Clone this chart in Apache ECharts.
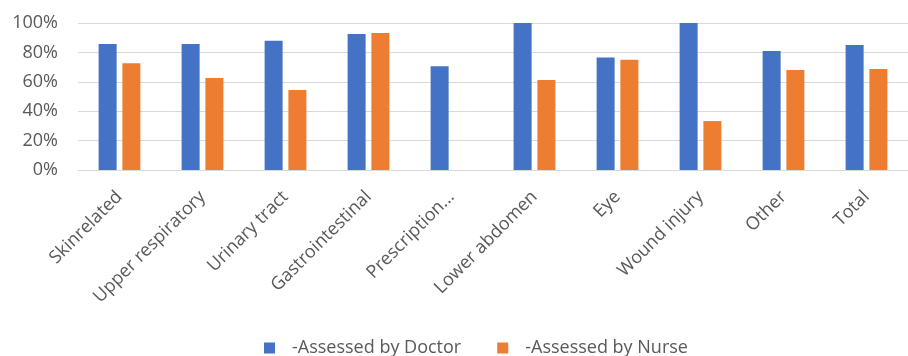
<!DOCTYPE html>
<html>
<head>
<meta charset="utf-8">
<script src="https://cdn.jsdelivr.net/npm/echarts@6/dist/echarts.min.js"></script>
<style>
html,body{margin:0;padding:0;background:#fff;}
#chart{width:908px;height:356px;}
</style>
</head>
<body>
<div id="chart"></div>
<script>
const categories = ["Skinrelated", "Upper respiratory", "Urinary tract", "Gastrointestinal", "Prescription...", "Lower abdomen", "Eye", "Wound injury", "Other", "Total"];
const doctorValues = [85.7, 85.7, 88, 92.5, 70.5, 100, 76.6, 100, 81, 85];
const nurseValues = [72.6, 62.6, 54.4, 93.2, 0, 61.2, 75, 33.3, 68, 68.7];
const seriesNames = ["-Assessed by Doctor", "-Assessed by Nurse"];
const yTicks = [0, 20, 40, 60, 80, 100];

const FONT = "Open Sans";
const chart = echarts.init(document.getElementById('chart'), null, {renderer: 'canvas'});
chart.setOption({
  animation: false,
  backgroundColor: '#ffffff',
  textStyle: {fontFamily: FONT},
  grid: {left: 78, top: 23, width: 840, height: 147},
  legend: {
    left: 259, top: 334,
    itemWidth: 11, itemHeight: 11, itemGap: 36,
    icon: 'rect',
    textStyle: {fontFamily: FONT, fontSize: 18, color: '#595959', padding: [0, 0, 0, 12]},
    data: seriesNames
  },
  xAxis: {
    type: 'category',
    data: categories,
    axisLine: {lineStyle: {color: '#D9D9D9', width: 1}},
    axisTick: {show: false},
    axisLabel: {rotate: 45, interval: 0, margin: 24, fontFamily: FONT, fontSize: 18, color: '#595959'}
  },
  yAxis: {
    type: 'value',
    min: yTicks[0], max: yTicks[yTicks.length - 1], interval: yTicks[1] - yTicks[0],
    axisLine: {show: false},
    axisTick: {show: false},
    splitLine: {lineStyle: {color: '#D9D9D9', width: 1}},
    axisLabel: {formatter: '{value}%', margin: 20, fontFamily: FONT, fontSize: 18, color: '#595959'}
  },
  series: [
    {name: seriesNames[0], type: 'bar', data: doctorValues, barWidth: 18, barGap: '32%', itemStyle: {color: '#4472C4'}},
    {name: seriesNames[1], type: 'bar', data: nurseValues, barWidth: 18, barGap: '32%', itemStyle: {color: '#ED7D31'}}
  ]
});
</script>
</body>
</html>
